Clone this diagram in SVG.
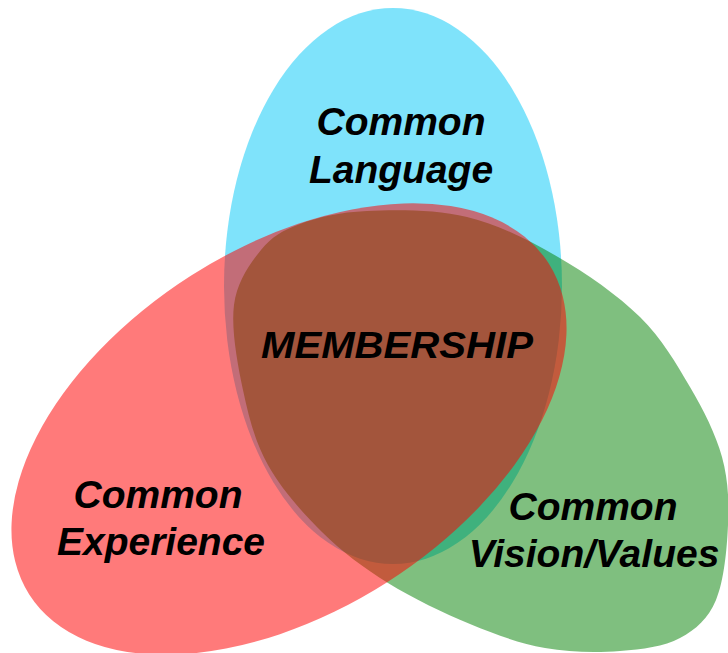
<svg xmlns="http://www.w3.org/2000/svg" width="728" height="653" viewBox="0 0 728 653">
<style>
.lbl{font-family:"Liberation Sans",Arial,sans-serif;font-weight:bold;font-style:italic;font-size:39px;fill:#000;text-anchor:middle}
.ctr{font-size:37px}
</style>
<rect width="728" height="653" fill="#fff"/>
<g id="language">
<ellipse cx="393" cy="286" rx="169" ry="278" fill="#00C8F8" fill-opacity="0.5"/>
</g>
<g id="vision">
<path d="M367,211 C394.8,209.8 435.2,209.3 467,217 C498.8,224.7 529.2,240.3 558,257 C586.8,273.7 618,295.3 640,317 C662,338.7 676.3,363.7 690,387 C703.7,410.3 715.7,434 722,457 C728.3,480 729,501.2 728,525 C727,548.8 724,581.2 716,600 C708,618.8 696,629.5 680,638 C664,646.5 642.5,649.3 620,651 C597.5,652.7 570,652.5 545,648 C520,643.5 496.2,634.8 470,624 C443.8,613.2 412.7,598.3 388,583 C363.3,567.7 342,551.7 322,532 C302,512.3 281.2,488.7 268,465 C254.8,441.3 248.7,416.7 243,390 C237.3,363.3 231,328.3 234,305 C237,281.7 250,263.5 261,250 C272,236.5 282.3,230.5 300,224 C317.7,217.5 339.2,212.2 367,211 Z" fill="#008000" fill-opacity="0.5"/>
</g>
<g id="experience">
<ellipse cx="0" cy="0" rx="308" ry="182" transform="translate(289 429) rotate(-32.5)" fill="#FF0000" fill-opacity="0.52"/>
</g>
<g id="connectors"></g>
<g id="labels">
<text class="lbl" x="401" y="135">Common</text>
<text class="lbl" x="401" y="183">Language</text>
<text class="lbl ctr" x="397" y="358" textLength="272" lengthAdjust="spacingAndGlyphs">MEMBERSHIP</text>
<text class="lbl" x="158" y="508">Common</text>
<text class="lbl" x="161" y="555">Experience</text>
<text class="lbl" x="593" y="520">Common</text>
<text class="lbl" x="594" y="567">Vision/Values</text>
</g>
</svg>
